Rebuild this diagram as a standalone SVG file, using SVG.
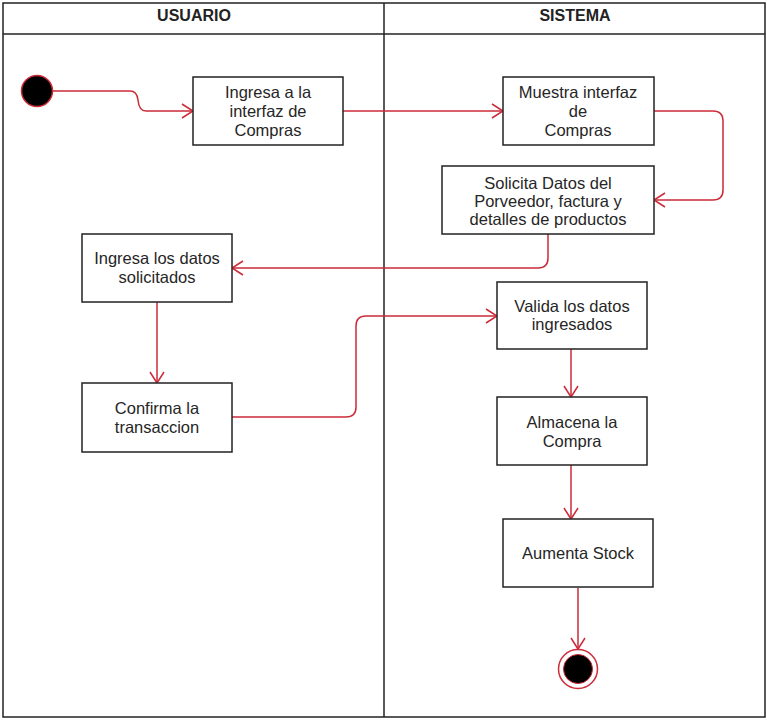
<svg xmlns="http://www.w3.org/2000/svg" width="767" height="721" viewBox="0 0 767 721">
<style>
.lane{fill:none;stroke:#222;stroke-width:1.5}
.box{fill:#fff;stroke:#222;stroke-width:1.5}
.t{font-family:"Liberation Sans",Arial,sans-serif;font-size:16.5px;fill:#262626;text-anchor:middle}
.h{font-family:"Liberation Sans",Arial,sans-serif;font-size:16px;font-weight:bold;fill:#222;text-anchor:middle}
.c{fill:none;stroke:#cc2b38;stroke-width:1.5;marker-end:url(#arr)}
</style>
<defs>
<marker id="arr" markerWidth="14" markerHeight="16" refX="12" refY="8" orient="auto" markerUnits="userSpaceOnUse">
<path d="M1 1 L12 8 L1 15" fill="none" stroke="#cc2b38" stroke-width="1.5"/>
</marker>
</defs>
<rect width="767" height="721" fill="#fff"/>
<g id="lanes">
<rect class="lane" x="3" y="3" width="762" height="714"/>
<line class="lane" x1="3" y1="34" x2="765" y2="34"/>
<line class="lane" x1="384" y1="3" x2="384" y2="717"/>
<text class="h" x="194" y="21">USUARIO</text>
<text class="h" x="575" y="21">SISTEMA</text>
</g>
<g id="connectors">
<path class="c" d="M53 91 H130 Q137 91 138 100 Q139 111 146 111 H193"/>
<path class="c" d="M343 111 H503"/>
<path class="c" d="M654 111 H713 Q723 111 723 121 V190 Q723 200 713 200 H654"/>
<path class="c" d="M548 234 V258 Q548 268 538 268 H232"/>
<path class="c" d="M157 302 V383"/>
<path class="c" d="M232 417 H346 Q356 417 356 407 V326 Q356 316 366 316 H497"/>
<path class="c" d="M571 349 V397"/>
<path class="c" d="M571 465 V519"/>
<path class="c" d="M578 588 V649"/>
</g>
<g id="start">
<circle cx="37" cy="91" r="15.5" fill="#000" stroke="#cc2b38" stroke-width="1.5"/>
</g>
<g id="n1">
<rect class="box" x="193" y="77" width="150" height="68"/>
<text class="t" x="268" y="98">Ingresa a la</text>
<text class="t" x="268" y="117">interfaz de</text>
<text class="t" x="268" y="136">Compras</text>
</g>
<g id="n2">
<rect class="box" x="503" y="77" width="151" height="68"/>
<text class="t" x="578" y="98">Muestra interfaz</text>
<text class="t" x="578" y="117">de</text>
<text class="t" x="578" y="136">Compras</text>
</g>
<g id="n3">
<rect class="box" x="442" y="166" width="212" height="68"/>
<text class="t" x="548" y="189">Solicita Datos del</text>
<text class="t" x="548" y="207">Porveedor, factura y</text>
<text class="t" x="548" y="225">detalles de productos</text>
</g>
<g id="n4">
<rect class="box" x="82" y="234" width="150" height="68"/>
<text class="t" x="157" y="264">Ingresa los datos</text>
<text class="t" x="157" y="283">solicitados</text>
</g>
<g id="n5">
<rect class="box" x="82" y="383" width="150" height="69"/>
<text class="t" x="157" y="414">Confirma la</text>
<text class="t" x="157" y="433">transaccion</text>
</g>
<g id="n6">
<rect class="box" x="497" y="282" width="150" height="67"/>
<text class="t" x="572" y="312">Valida los datos</text>
<text class="t" x="572" y="330">ingresados</text>
</g>
<g id="n7">
<rect class="box" x="497" y="397" width="150" height="68"/>
<text class="t" x="572" y="428">Almacena la</text>
<text class="t" x="572" y="447">Compra</text>
</g>
<g id="n8">
<rect class="box" x="503" y="519" width="150" height="68"/>
<text class="t" x="578" y="559">Aumenta Stock</text>
</g>
<g id="end">
<circle cx="578" cy="669" r="19.5" fill="#fff" stroke="#cc2b38" stroke-width="1.5"/>
<circle cx="578" cy="669" r="14.5" fill="#000" stroke="#cc2b38" stroke-width="1"/>
</g>
</svg>
